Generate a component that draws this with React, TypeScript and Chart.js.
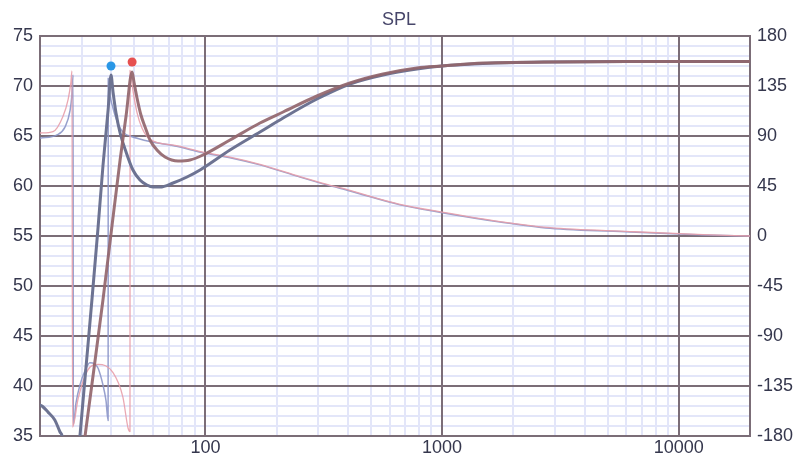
import { useEffect, useRef } from 'react';
import { Chart, registerables } from 'chart.js';

Chart.register(...registerables);

// ---- data (Hz / dB / degrees) ----
const splBlueFreq = [20, 20.4, 21.6, 23.1, 24.3, 24.8, 26.0, 27.3, 28.4, 29.5, 31.0, 33.2, 35.2, 36.9, 38.8, 39.9, 40.7, 41.9, 43.6, 46.2, 49.4, 52.9, 56.6, 60.1, 64.3, 73.0, 83.6, 94.9, 127, 170, 213, 296, 408, 563, 783, 1000, 1490, 2860, 6000, 12000, 20000];
const splBlue = [38.1, 38.0, 37.4, 36.6, 35.4, 35.0, 31.5, 29.0, 30.4, 35.0, 40.8, 48.8, 55.9, 62.0, 67.6, 71.1, 69.4, 67.3, 65.3, 63.4, 61.6, 60.6, 60.1, 59.9, 59.9, 60.3, 60.9, 61.6, 63.6, 65.4, 66.8, 68.7, 70.2, 71.1, 71.7, 72.0, 72.25, 72.4, 72.45, 72.45, 72.45];

const splRedFreq = [28.4, 31.0, 33.2, 36.9, 39.9, 43.6, 46.2, 49.0, 49.9, 51.4, 53.4, 55.6, 58.3, 62.4, 67.5, 76.6, 86.1, 97.7, 127, 170, 213, 296, 408, 563, 783, 1000, 1490, 2860, 6000, 12000, 20000];
const splRed = [28.3, 35.0, 40.3, 48.6, 55.2, 62.6, 67.0, 71.4, 70.4, 68.8, 67.1, 65.9, 64.6, 63.6, 62.9, 62.5, 62.6, 63.1, 64.6, 66.3, 67.4, 69.0, 70.3, 71.2, 71.8, 72.0, 72.3, 72.4, 72.45, 72.45, 72.45];

const phaseBlueFreq = [20, 23.6, 25.5, 26.8, 27.3, 27.6, 27.65, 28.4, 29.5, 31.0, 32.5, 34.0, 35.2, 36.9, 38.0, 38.8, 38.85, 39.5, 40.7, 41.9, 43.6, 45.7, 48.0, 58.3, 74.4, 97.7, 127, 170, 251, 326, 408, 664, 1000, 1757, 2860, 6220, 12700, 20000];
const phaseBlue = [88, 91, 98, 113, 128, 145, -170, -150, -134, -121, -114, -115, -119, -134, -148, -166, 142, 127, 115, 106, 97, 92, 90, 85, 81, 75, 70.5, 64, 53, 46, 40.5, 28, 21, 12.6, 7, 3.6, 1, 0];

const phaseRedFreq = [20, 22.7, 25.0, 26.3, 27.0, 27.3, 27.45, 29.0, 31.8, 35.2, 40.7, 44.8, 47.1, 48.0, 48.05, 49.4, 51.4, 54.0, 58.3, 74.4, 97.7, 127, 170, 251, 326, 408, 664, 1000, 1757, 2860, 6220, 12700, 20000];
const phaseRed = [92.7, 94, 107.6, 123, 138, 148.5, -172, -146, -121, -115.6, -123, -145, -172.8, -176, 149, 131, 111, 97, 87, 81.5, 75.5, 71, 64.5, 53.5, 46.5, 41, 28.5, 21.5, 13, 7.5, 4, 1.2, 0];

const peakFreqs = [39.9, 49.0];
const peakLevels = [72.0, 72.4];

const xTickLabels = [100, 1000, 10000];
const leftTicks = [35, 40, 45, 50, 55, 60, 65, 70, 75];
const rightTicks = [-180, -135, -90, -45, 0, 45, 90, 135, 180];

const X_MIN = 20;
const X_MAX = 20000;
const Y_MIN = 35;
const Y_MAX = 75;

const MAJOR = '#7b6d77';
const MINOR = '#e3e6f9';
const LABEL = '#35374d';
const FONT = "'Liberation Sans', Arial, sans-serif";

function isMajorX(v: number) {
  if (v === X_MIN || v === X_MAX) return true;
  const l = Math.log10(v);
  return Math.abs(l - Math.round(l)) < 1e-9;
}

function buildXGrid() {
  const out: number[] = [];
  for (let d = 10; d <= 10000; d *= 10) {
    for (let m = 1; m <= 9; m++) {
      const v = m * d;
      if (v >= X_MIN && v <= X_MAX) out.push(v);
    }
  }
  if (!out.includes(X_MAX)) out.push(X_MAX);
  return out;
}

function buildYGrid() {
  const out: number[] = [];
  for (let v = Y_MIN; v <= Y_MAX; v++) out.push(v);
  return out;
}

const gridPlugin = {
  id: 'splGrid',
  beforeDatasetsDraw(chart: any) {
    const { ctx, chartArea: a, scales } = chart;
    const xs = scales.x;
    const ys = scales.y;
    const xGrid = buildXGrid();
    const yGrid = buildYGrid();
    ctx.save();
    ctx.lineWidth = 2;
    const pass = (major: boolean) => {
      ctx.strokeStyle = major ? MAJOR : MINOR;
      ctx.beginPath();
      for (const v of yGrid) {
        if ((v % 5 === 0) !== major) continue;
        const p = Math.round(ys.getPixelForValue(v));
        ctx.moveTo(a.left, p);
        ctx.lineTo(a.right, p);
      }
      for (const v of xGrid) {
        if (isMajorX(v) !== major) continue;
        const p = Math.round(xs.getPixelForValue(v));
        ctx.moveTo(p, a.top - 1);
        ctx.lineTo(p, a.bottom + 1);
      }
      ctx.stroke();
    };
    pass(false);
    pass(true);
    ctx.restore();
  },
};

export default function App() {
  const ref = useRef<HTMLCanvasElement>(null);

  useEffect(() => {
    const canvas = ref.current!;
    const pts = (f: number[], v: number[]) => f.map((x, i) => ({ x, y: v[i] }));
    const xGrid = buildXGrid();
    const yGrid = buildYGrid();

    const lineBase = {
      pointRadius: 0,
      cubicInterpolationMode: 'monotone',
      borderJoinStyle: 'round',
      borderCapStyle: 'round',
    };

    const chart = new Chart(canvas, {
      type: 'line',
      plugins: [gridPlugin],
      data: {
        datasets: [
          {
            data: pts([peakFreqs[0]], [peakLevels[0]]),
            showLine: false,
            pointRadius: 4.5,
            pointBackgroundColor: '#2a97e6',
            pointBorderWidth: 0,
            yAxisID: 'y',
            order: 0,
          },
          {
            data: pts([peakFreqs[1]], [peakLevels[1]]),
            showLine: false,
            pointRadius: 4.5,
            pointBackgroundColor: '#e65050',
            pointBorderWidth: 0,
            yAxisID: 'y',
            order: 0,
          },
          {
            ...lineBase,
            data: pts(splRedFreq, splRed),
            borderColor: 'rgba(146,102,108,0.92)',
            borderWidth: 3,
            yAxisID: 'y',
            order: 1,
          },
          {
            ...lineBase,
            data: pts(splBlueFreq, splBlue),
            borderColor: '#6d7392',
            borderWidth: 3,
            yAxisID: 'y',
            order: 2,
          },
          {
            ...lineBase,
            data: pts(phaseRedFreq, phaseRed),
            borderColor: 'rgba(232,158,170,0.9)',
            borderWidth: 1.3,
            yAxisID: 'y2',
            order: 3,
          },
          {
            ...lineBase,
            data: pts(phaseBlueFreq, phaseBlue),
            borderColor: 'rgba(140,150,200,0.9)',
            borderWidth: 1.5,
            yAxisID: 'y2',
            order: 4,
          },
        ],
      },
      options: {
        responsive: false,
        animation: false,
        devicePixelRatio: 1,
        events: [],
        layout: { padding: 0 },
        plugins: {
          legend: { display: false },
          tooltip: { enabled: false },
          title: {
            display: true,
            text: 'SPL',
            color: '#47466a',
            font: { family: FONT, size: 18, weight: 'normal', lineHeight: 1.2 },
            padding: { top: 9, bottom: 5.4 },
          },
        },
        scales: {
          x: {
            type: 'logarithmic',
            min: X_MIN,
            max: X_MAX,
            afterBuildTicks: (s: any) => {
              s.ticks = xGrid.map((v) => ({ value: v }));
            },
            afterFit: (s: any) => {
              s.height = 23;
            },
            border: { display: false },
            grid: { display: false, drawTicks: false },
            ticks: {
              autoSkip: false,
              maxRotation: 0,
              padding: 1,
              color: LABEL,
              font: { family: FONT, size: 18 },
              callback: (v: any) => (xTickLabels.includes(Number(v)) ? String(v) : ''),
            },
          },
          y: {
            type: 'linear',
            position: 'left',
            min: Y_MIN,
            max: Y_MAX,
            afterBuildTicks: (s: any) => {
              s.ticks = yGrid.map((v) => ({ value: v }));
            },
            afterFit: (s: any) => {
              s.width = 40;
            },
            border: { display: false },
            grid: { display: false, drawTicks: false },
            ticks: {
              autoSkip: false,
              padding: 7,
              color: LABEL,
              font: { family: FONT, size: 18 },
              callback: (v: any) => (leftTicks.includes(Number(v)) ? String(v) : ''),
            },
          },
          y2: {
            type: 'linear',
            position: 'right',
            min: -180,
            max: 180,
            afterBuildTicks: (s: any) => {
              s.ticks = rightTicks.map((v) => ({ value: v }));
            },
            afterFit: (s: any) => {
              s.width = 48;
            },
            border: { display: false },
            grid: { display: false, drawTicks: false },
            ticks: {
              autoSkip: false,
              padding: 7,
              color: LABEL,
              font: { family: FONT, size: 18 },
              callback: (v: any) => String(v),
            },
          },
        },
      },
    } as any);

    return () => chart.destroy();
  }, []);

  return (
    <div style={{ position: 'absolute', left: 0, top: 0, width: 798, height: 459, background: '#ffffff' }}>
      <canvas ref={ref} width={798} height={459} style={{ display: 'block', width: 798, height: 459 }} />
    </div>
  );
}
